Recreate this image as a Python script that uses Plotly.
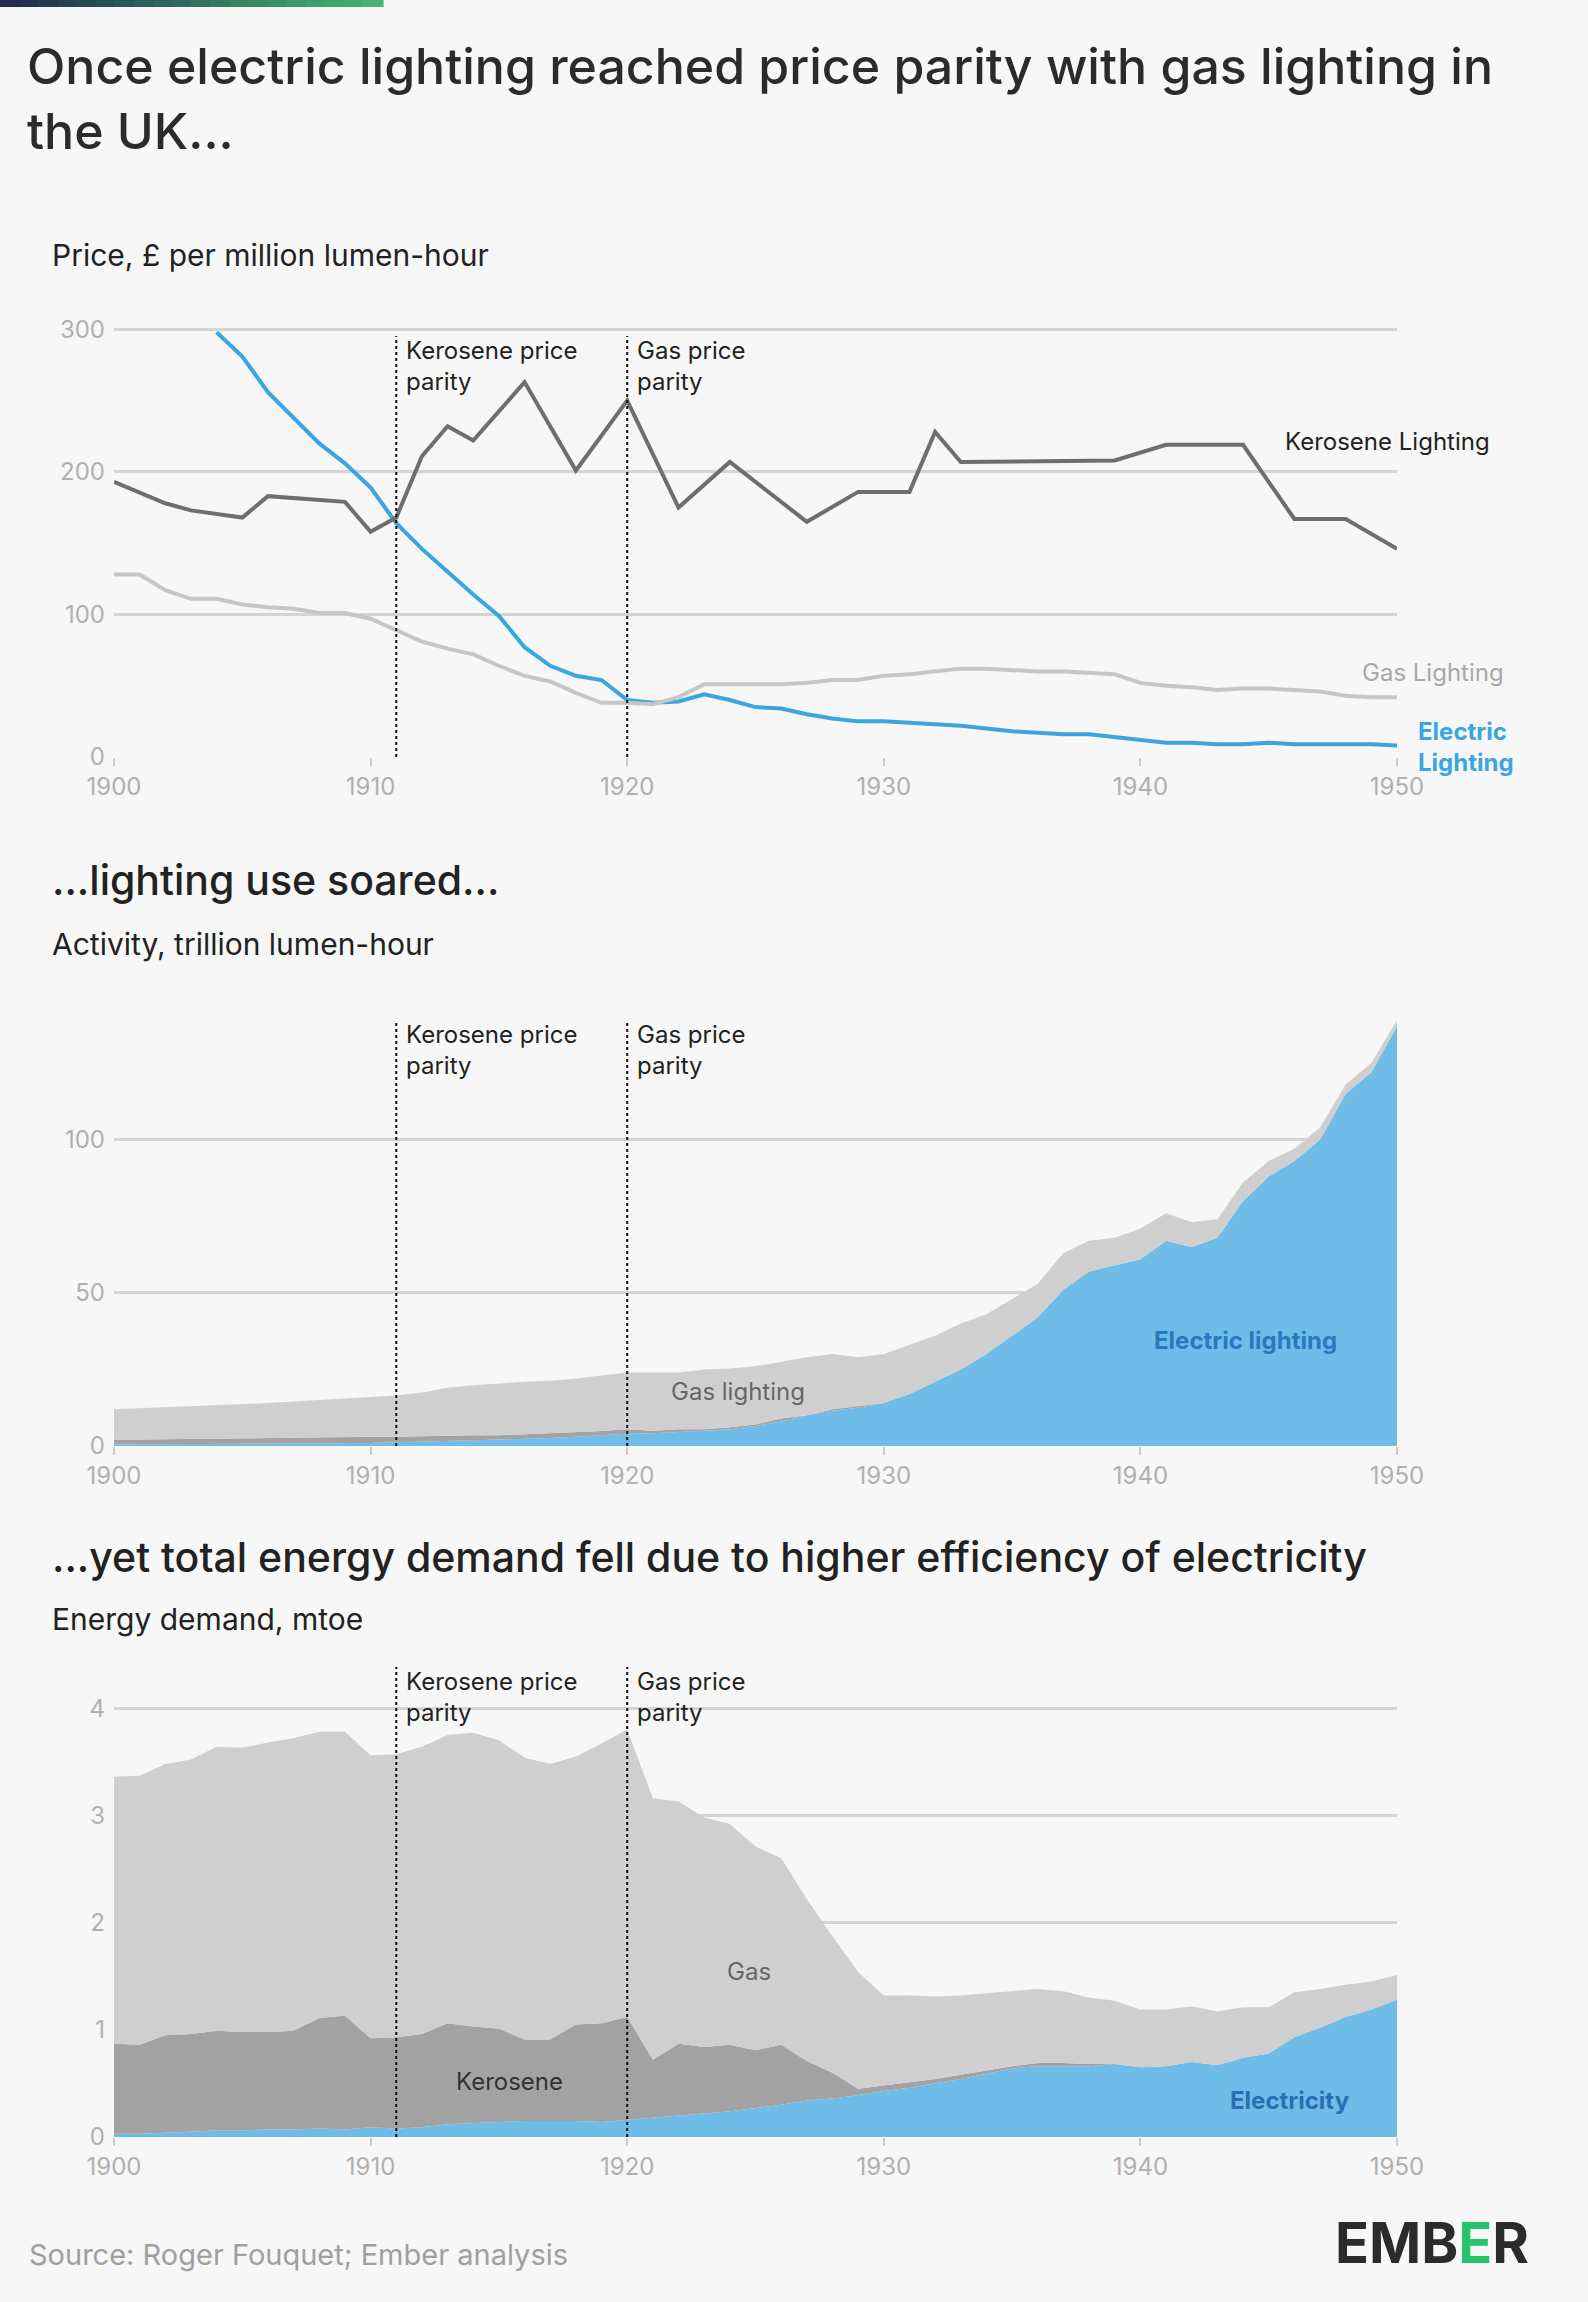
import plotly.graph_objects as go
import numpy as np

W, H = 1588, 2302
FONT = "Inter"

# ---------- Chart 1: price, £ per million lumen-hour ----------
kero_price_years = [1900,1902,1903,1905,1906,1909,1910,1911,1912,1913,1914,1916,1918,1920,1922,1924,1927,1929,1931,1932,1933,1939,1941,1944,1946,1948,1950]
kero_price = [193,178,173,168,183,179,158,168,211,232,222,263,201,250,175,207,165,186,186,228,207,208,219,219,167,167,146]

years = list(range(1900, 1951))
gas_price = [128,128,117,111,111,107,105,104,101,101,97,89,81,76,72,64,57,53,45,38,38,37,42,51,51,51,51,52,54,54,57,58,60,62,62,61,60,60,59,58,52,50,49,47,48,48,47,46,43,42,42]
elec_price_years = list(range(1904, 1951))
elec_price = [298,281,256,238,220,206,189,164,146,130,114,99,77,64,57,54,40,38,39,44,40,35,34,30,27,25,25,24,23,22,20,18,17,16,16,14,12,10,10,9,9,10,9,9,9,9,8]

# ---------- Chart 2: activity, trillion lumen-hour (stacked) ----------
act_elec = [0.5,0.5,0.6,0.6,0.7,0.7,0.8,0.8,0.9,0.9,1.0,1.2,1.4,1.6,1.8,2.0,2.3,2.6,3.0,3.5,4.0,4.2,4.5,5.0,5.5,6.5,8.0,10.0,11.5,12.5,14,17,21,25,30,36,42,51,57,59,61,67,65,68,80,88,93,100,115,122,137]
act_kero = [1.5,1.6,1.6,1.7,1.7,1.8,1.8,2.1,2.0,2.0,2.0,1.8,1.8,1.8,1.7,1.5,1.5,1.6,1.5,1.4,1.5,0.8,1.0,0.5,0.6,0.5,1.0,0.0,0.5,0.5,0.0,0,0,0,0,0,0,0,0,0,0,0,0,0,0,0,0,0,0,0,0]
act_total = [12,12.3,12.6,12.9,13.3,13.6,14,14.5,15,15.5,16,16.5,17.5,19,19.8,20.5,21,21.3,22,23,24,24,24,25,25.3,26,27.5,29,30,29,30,33,36,40,43,48,53,63,67,68,71,76,73,74,86,93,97,104,118,125,139]

# ---------- Chart 3: energy demand, mtoe (stacked) ----------
en_elec = [0.03,0.03,0.04,0.05,0.06,0.06,0.07,0.07,0.08,0.07,0.09,0.08,0.09,0.12,0.13,0.14,0.15,0.15,0.15,0.14,0.16,0.18,0.20,0.22,0.24,0.27,0.30,0.34,0.36,0.39,0.43,0.46,0.50,0.54,0.59,0.64,0.66,0.66,0.66,0.68,0.65,0.66,0.70,0.67,0.74,0.78,0.93,1.02,1.12,1.19,1.28]
en_elec_kero = [0.87,0.86,0.95,0.96,0.99,0.98,0.98,0.99,1.11,1.13,0.92,0.93,0.96,1.06,1.03,1.01,0.91,0.91,1.05,1.06,1.12,0.72,0.87,0.84,0.86,0.81,0.86,0.71,0.60,0.45,0.48,0.51,0.54,0.58,0.62,0.66,0.69,0.69,0.68,0.68,0.65,0.66,0.70,0.67,0.74,0.78,0.93,1.02,1.12,1.19,1.28]
en_total = [3.36,3.37,3.48,3.52,3.64,3.63,3.68,3.72,3.78,3.78,3.56,3.57,3.64,3.75,3.77,3.70,3.54,3.48,3.55,3.67,3.80,3.16,3.13,2.98,2.92,2.71,2.60,2.22,1.87,1.54,1.32,1.32,1.31,1.32,1.34,1.36,1.38,1.36,1.30,1.27,1.19,1.19,1.22,1.17,1.21,1.21,1.35,1.38,1.42,1.45,1.51]

en_kero = list(np.array(en_elec_kero) - np.array(en_elec))
en_gas = list(np.array(en_total) - np.array(en_elec_kero))
act_gas = list(np.array(act_total) - np.array(act_elec) - np.array(act_kero))

parity_years = [1911, 1920]
parity_labels = ["Kerosene price<br>parity", "Gas price<br>parity"]

BLUE_LINE = "#3aa5e0"
BLUE_FILL = "#6fbce9"
DARK_FILL = "#a2a2a2"
LIGHT_FILL = "#cfcfcf"
KERO_LINE = "#6e6e6e"
GAS_LINE = "#c6c6c6"

def fy(py):
    return 1 - py / H

xdom = [114 / W, 1397 / W]
panels = [  # (axis suffix, top px, bottom px, range)
    ("", 308, 757, [0, 315]),
    ("2", 1011, 1446, [0, 142]),
    ("3", 1676, 2137, [0, 4.3]),
]

fig = go.Figure()

fig.add_trace(go.Scatter(x=elec_price_years, y=elec_price, mode="lines",
                         line=dict(color=BLUE_LINE, width=4), xaxis="x", yaxis="y"))
fig.add_trace(go.Scatter(x=years, y=gas_price, mode="lines",
                         line=dict(color=GAS_LINE, width=4), xaxis="x", yaxis="y"))
fig.add_trace(go.Scatter(x=kero_price_years, y=kero_price, mode="lines",
                         line=dict(color=KERO_LINE, width=4), xaxis="x", yaxis="y"))

for vals, col in [(act_elec, BLUE_FILL), (act_kero, DARK_FILL), (act_gas, LIGHT_FILL)]:
    fig.add_trace(go.Scatter(x=years, y=vals, mode="lines", stackgroup="a",
                             line=dict(width=0, color=col), fillcolor=col,
                             xaxis="x2", yaxis="y2"))
for vals, col in [(en_elec, BLUE_FILL), (en_kero, DARK_FILL), (en_gas, LIGHT_FILL)]:
    fig.add_trace(go.Scatter(x=years, y=vals, mode="lines", stackgroup="e",
                             line=dict(width=0, color=col), fillcolor=col,
                             xaxis="x3", yaxis="y3"))

layout = dict(
    width=W, height=H, margin=dict(l=0, r=0, t=0, b=0, autoexpand=False),
    paper_bgcolor="#f7f7f7", plot_bgcolor="#f7f7f7", showlegend=False,
    font=dict(family=FONT, color="#222"),
)
dtick = {"": 100, "2": 50, "3": 1}
for suf, top, bot, rng in panels:
    layout["xaxis" + suf] = dict(domain=xdom, range=[1900, 1950], anchor="y" + suf,
                                  tickvals=[1900, 1910, 1920, 1930, 1940, 1950], automargin=False,
                                  showgrid=False, zeroline=False, showline=False,
                                  ticks="outside", ticklen=8, tickcolor="#cccccc", tickwidth=2,
                                  tickfont=dict(size=24, color="#b0b0b0", family=FONT))
    layout["yaxis" + suf] = dict(domain=[fy(bot), fy(top)], range=rng, anchor="x" + suf,
                                  dtick=dtick[suf], showgrid=True, gridcolor="#d4d4d4", gridwidth=3,
                                  zeroline=False, showline=False, ticks="", ticklabelstandoff=8,
                                  automargin=False,
                                  tickfont=dict(size=24, color="#b0b0b0", family=FONT))
fig.update_layout(**layout)

shapes = []
annots = []
n = 20
for i in range(n):
    t = i / (n - 1)
    c0, c1 = np.array([30, 45, 80]), np.array([70, 180, 110])
    c = (c0 + (c1 - c0) * t).astype(int)
    shapes.append(dict(type="rect", xref="paper", yref="paper",
                       x0=i * 382 / n / W, x1=(i + 1) * 382 / n / W + 0.001,
                       y0=fy(7), y1=1, line=dict(width=0),
                       fillcolor=f"rgb({c[0]},{c[1]},{c[2]})"))

label_tops = {"": 336, "2": 1020, "3": 1667}
for suf, top, bot, rng in panels:
    for yr, lab in zip(parity_years, parity_labels):
        shapes.append(dict(type="line", xref="x" + suf, yref="paper", x0=yr, x1=yr,
                           y0=fy(bot), y1=fy(label_tops[suf]),
                           line=dict(color="#111", width=2, dash="dot")))
        annots.append(dict(x=yr, xref="x" + suf, y=fy(label_tops[suf] - 2), yref="paper",
                           text=lab, showarrow=False, xanchor="left", yanchor="top",
                           xshift=8, align="left", font=dict(size=24, color="#222", family=FONT)))

def txt(px, py, text, size, color="#222", xanchor="left", yanchor="middle", align="left", weight=None):
    f = dict(size=size, color=color, family=FONT)
    if weight:
        f["weight"] = weight
    annots.append(dict(x=px / W, y=fy(py), xref="paper", yref="paper", text=text,
                       showarrow=False, xanchor=xanchor, yanchor=yanchor, align=align, font=f))

txt(25, 34, "Once electric lighting reached price parity with gas lighting in<br>the UK...", 50, "#2b2b2b", yanchor="top", weight=500)
txt(50, 255, "Price, £ per million lumen-hour", 30)
txt(50, 880, "...lighting use soared...", 41, "#222", weight=500)
txt(50, 944, "Activity, trillion lumen-hour", 30)
txt(50, 1557, "...yet total energy demand fell due to higher efficiency of electricity", 41, weight=500)
txt(50, 1619, "Energy demand, mtoe", 30)

txt(1283, 442, "Kerosene Lighting", 24, "#222")
txt(1506, 672, "Gas Lighting", 24, "#a8a8a8", xanchor="right")
txt(1416, 747, "<b>Electric<br>Lighting</b>", 24, BLUE_LINE)
txt(1245, 1340, "<b>Electric lighting</b>", 24, "#2a78bd", xanchor="center")
txt(738, 1391, "Gas lighting", 24, "#666", xanchor="center")
txt(749, 1971, "Gas", 24, "#666", xanchor="center")
txt(509, 2081, "Kerosene", 24, "#333", xanchor="center")
txt(1290, 2100, "<b>Electricity</b>", 24, "#2a6fb3", xanchor="center")

txt(27, 2254, "Source: Roger Fouquet; Ember analysis", 29, "#a0a0a0")
txt(1531, 2243, "<b>EMB<span style='color:#27c46b'>E</span>R</b>", 56, "#2b2b2b", xanchor="right")

fig.update_layout(shapes=shapes, annotations=annots)
fig.write_html("out.html", config={"displayModeBar": False})

with open("out.html", "r", encoding="utf-8") as f:
    html = f.read()
html = html.replace("<head>", "<head><style>html,body{margin:0;padding:0;overflow:hidden;background:#f7f7f7}</style>", 1)
with open("out.html", "w", encoding="utf-8") as f:
    f.write(html)
